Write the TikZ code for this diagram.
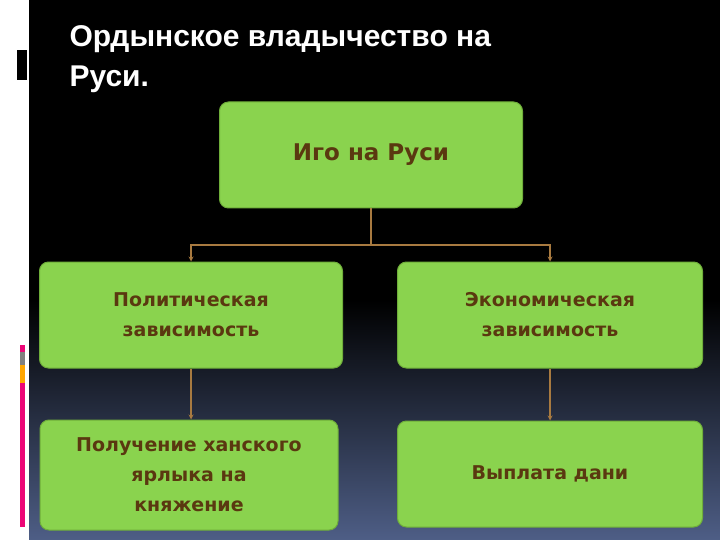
\documentclass[tikz,border=0pt]{standalone}
\usepackage{fontspec}
\setmainfont{DejaVu Sans}
\newfontfamily\titlefont{Liberation Sans}
\usetikzlibrary{positioning,shadings}
\definecolor{boxgreen}{HTML}{8AD34E}
\definecolor{boxedge}{HTML}{6FAE3A}
\definecolor{inktext}{HTML}{5A3810}
\definecolor{linkbrown}{HTML}{A87A40}
\definecolor{deepblue}{HTML}{4E5E86}
\tikzset{>=stealth}

\begin{document}
\begin{tikzpicture}[
        x=1pt, y=-1pt,
        block/.style={
            draw=boxedge,
            fill=boxgreen,
            rounded corners=9pt,
            line width=1pt,
            minimum height=106pt,
            minimum width=303pt,
            align=center,
            text=inktext,
            font=\bfseries\fontsize{19}{30}\selectfont,
          },
        link/.style={draw=linkbrown, line width=1.2pt},
      ]
      % background
      \fill[white] (0,0) rectangle (720,540);
      \fill[black] (29,0) rectangle (720,300);
      \shade[top color=black, bottom color=deepblue] (29,300) rectangle (720,540);
      \fill[black] (17,50) rectangle (27,80);
      \fill[magenta!80!red] (20,345) rectangle (25,352);
      \fill[gray] (20,352) rectangle (25,365);
      \fill[orange!70!yellow] (20,365) rectangle (25,383);
      \fill[magenta!80!red] (20,383) rectangle (25,527);

      \node[anchor=north west, align=left, text=white,
        font=\titlefont\bfseries\fontsize{30}{40}\selectfont]
        (title) at (66,22) {Ордынское владычество на\\Руси.};

      \node[block, font=\bfseries\fontsize{23}{30}\selectfont] (yoke) at (371,155) {Иго на Руси};
      \node[block] (polit) at (191,315) {Политическая\\зависимость};
      \node[block, minimum width=305pt] (econ) at (550,315) {Экономическая\\зависимость};
      \node[block, minimum width=298pt, minimum height=110pt] (label) at (189,475) {Получение ханского\\ярлыка на\\княжение};
      \node[block, minimum width=305pt] (tribute) at (550,474) {Выплата дани};

      \coordinate (split) at (371,245);
      \draw[link] (yoke.south) -- (split);
      \draw[link,->] (split) -| (polit.north);
      \draw[link,->] (split) -| (econ.north);
      \draw[link,->] (polit.south) -- (polit.south |- label.north);
      \draw[link,->] (econ.south) -- (tribute.north);
      \useasboundingbox (0,0) rectangle (720,540);
    \end{tikzpicture}
\end{document}
